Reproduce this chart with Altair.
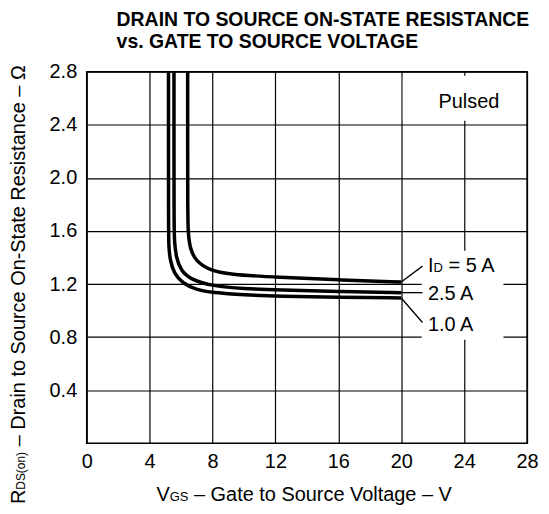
import altair as alt
import pandas as pd

FONT = "Liberation Sans"

# ---- data ----
x_ticks = [0, 4, 8, 12, 16, 20, 24, 28]
y_ticks = [0.4, 0.8, 1.2, 1.6, 2.0, 2.4, 2.8]

series_names = ["1.0 A", "2.5 A", "5 A"]
vgs_1a = [5.2, 5.2, 5.22, 5.3, 5.55, 6.1, 6.95, 8.0, 10.0, 12.2, 16.0, 20.0]
rds_1a = [2.8, 1.6, 1.48, 1.38, 1.28, 1.205, 1.158, 1.135, 1.118, 1.108, 1.10, 1.095]
vgs_25a = [5.55, 5.55, 5.58, 5.68, 6.0, 6.6, 8.0, 10.0, 12.2, 16.0, 20.0]
rds_25a = [2.8, 1.6, 1.53, 1.40, 1.30, 1.235, 1.185, 1.165, 1.155, 1.143, 1.135]
vgs_5a = [6.42, 6.42, 6.45, 6.55, 6.95, 7.8, 9.0, 12.2, 16.0, 20.0]
rds_5a = [2.8, 1.7, 1.60, 1.47, 1.37, 1.305, 1.272, 1.25, 1.232, 1.215]

# leader lines (curve end -> label)
lead_x = [20.0, 20.0, 20.0]
lead_y = [1.215, 1.135, 1.095]
lead_x2 = [21.35, 21.35, 21.35]
lead_y2 = [1.335, 1.135, 0.91]

# label anchors
lab_x = [21.7, 21.7, 21.7]
lab_y = [1.344, 1.131, 0.901]

# white boxes behind annotations
box_x = [21.3, 20.1]
box_x2 = [26.5, 27.9]
box_y = [0.78, 2.43]
box_y2 = [1.45, 2.77]

pulsed_x = [24.3]
pulsed_y = [2.57]

rows = []
for name, xs_, ys_ in zip(series_names, [vgs_1a, vgs_25a, vgs_5a], [rds_1a, rds_25a, rds_5a]):
    for i, (a, b) in enumerate(zip(xs_, ys_)):
        rows.append({"series": name, "vgs": a, "rds": b, "order": i})
df = pd.DataFrame(rows)

lead_df = pd.DataFrame({"vgs": lead_x, "rds": lead_y, "vgs2": lead_x2, "rds2": lead_y2})
box_df = pd.DataFrame({"vgs": box_x, "vgs2": box_x2, "rds": box_y, "rds2": box_y2})
one = pd.DataFrame({"k": [0]})

xs = alt.Scale(domain=[0, 28], nice=False, zero=False)
ys = alt.Scale(domain=[0, 2.8], nice=False, zero=False)

x_axis = alt.Axis(values=x_ticks, grid=True, gridColor="black", gridOpacity=1, gridWidth=1.2,
                  ticks=False, domain=False, labelFont=FONT, labelFontSize=20, labelColor="black",
                  labelPadding=8, format="d", title=None, labelFlush=False)
y_axis = alt.Axis(values=y_ticks, grid=True, gridColor="black", gridOpacity=1, gridWidth=1.2,
                  ticks=False, domain=False, labelFont=FONT, labelFontSize=20, labelColor="black",
                  labelPadding=10, format=".1f", title=None, labelFlush=False)


def X(field="vgs"):
    return alt.X(f"{field}:Q", scale=xs, axis=x_axis)


def Y(field="rds"):
    return alt.Y(f"{field}:Q", scale=ys, axis=y_axis)


curves = alt.Chart(df).mark_line(interpolate="basis", color="black", strokeWidth=3.5).encode(
    x=X(), y=Y(), detail="series:N", order="order:Q",
)

boxes = alt.Chart(box_df).mark_rect(fill="white").encode(
    x=X(), x2="vgs2:Q", y=Y(), y2="rds2:Q",
)

leads = alt.Chart(lead_df).mark_rule(color="black", strokeWidth=1.3).encode(
    x=X(), x2="vgs2:Q", y=Y(), y2="rds2:Q",
)


def txt(text, x, y, size=20, dx=0, dy=7):
    d = pd.DataFrame({"vgs": [x], "rds": [y]})
    return alt.Chart(d).mark_text(text=text, font=FONT, fontSize=size, color="black",
                                  align="left", baseline="alphabetic", dx=dx, dy=dy).encode(
        x=X(), y=Y())


labels = [
    txt("I", lab_x[0], lab_y[0]),
    txt("D", lab_x[0], lab_y[0], size=13, dx=5.6),
    txt("= 5 A", lab_x[0], lab_y[0], dx=20.6),
    txt("2.5 A", lab_x[1], lab_y[1]),
    txt("1.0 A", lab_x[2], lab_y[2]),
]

pulsed = alt.Chart(pd.DataFrame({"vgs": pulsed_x, "rds": pulsed_y})).mark_text(
    text="Pulsed", font=FONT, fontSize=20, color="black", align="center", baseline="middle").encode(
    x=X(), y=Y())


def ptxt(text, px, py, size=20, angle=0):
    return alt.Chart(one).mark_text(text=text, font=FONT, fontSize=size, color="black",
                                    align="left", baseline="alphabetic", angle=angle).encode(
        x=alt.value(px), y=alt.value(py))


# x axis title: V_GS – Gate to Source Voltage – V
xt_y = 431
xtitle = [
    ptxt("V", 70, xt_y),
    ptxt("GS", 83.3, xt_y, size=13),
    ptxt("– Gate to Source Voltage – V", 107.7, xt_y),
]
# y axis title: R_DS(on) – Drain to Source On-State Resistance – Ω
yt_x = -62
ytitle = [
    ptxt("R", yt_x, 434, angle=270),
    ptxt("DS(on)", yt_x, 419.6, size=12, angle=270),
    ptxt("– Drain to Source On-State Resistance – Ω", yt_x, 376, angle=270),
]

chart = alt.layer(curves, boxes, leads, pulsed, *labels, *xtitle, *ytitle).properties(
    width=442, height=373,
    title=alt.TitleParams(text=["DRAIN TO SOURCE ON-STATE RESISTANCE", "vs. GATE TO SOURCE VOLTAGE"],
                          anchor="start", frame="group", dx=30, font=FONT, fontSize=19.5,
                          fontWeight="bold", color="black", lineHeight=22, offset=9),
    autosize=alt.AutoSizeParams(type="none"),
    padding={"left": 79, "top": 63, "right": 14, "bottom": 62},
).configure_view(stroke="black", strokeWidth=1.5)

chart.save("out.html", embed_options={"renderer": "svg", "actions": False})
